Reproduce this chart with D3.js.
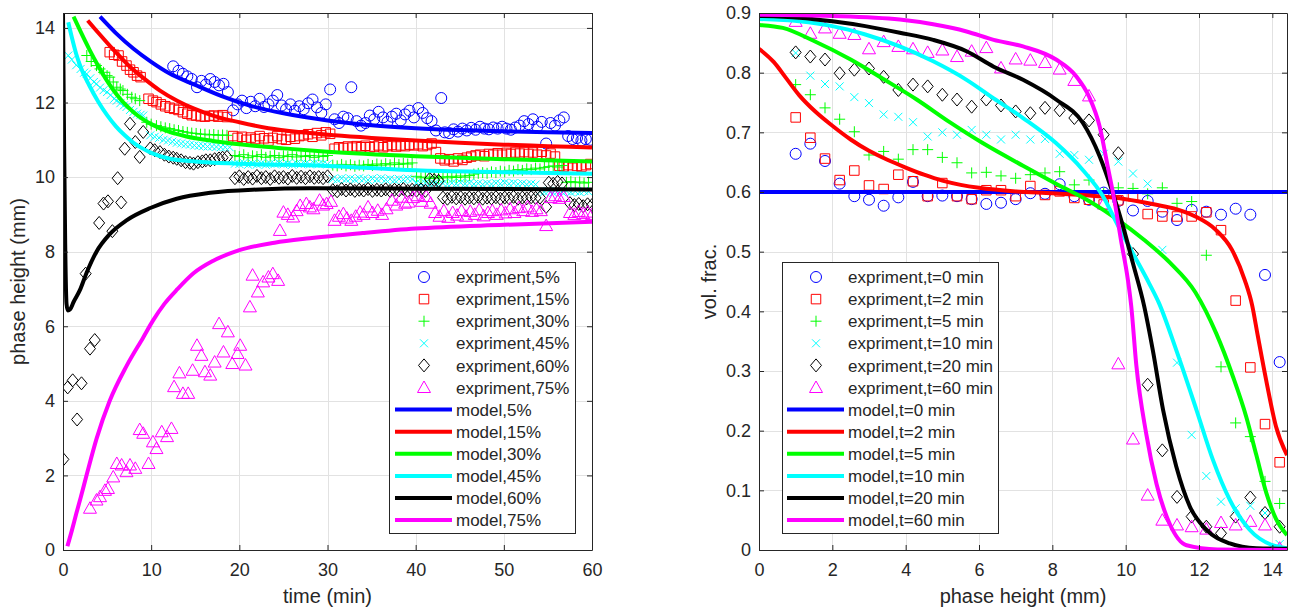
<!DOCTYPE html>
<html><head><meta charset="utf-8">
<script src="https://cdn.jsdelivr.net/npm/d3@7"></script>
<style>
body{margin:0;background:#fff}
svg text{font-family:"Liberation Sans",Arial,Helvetica,sans-serif;fill:#262626}
</style></head>
<body><svg id="c" width="1299" height="607"></svg>
<script>
// ---------------- DATA ----------------
const seriesColors = ["#0000ff","#ff0000","#00ff00","#00ffff","#000000","#ff00ff"];

// Left chart: phase height (mm) vs time (min)
const leftXTicks = [0,10,20,30,40,50,60];
const leftYTicks = [0,2,4,6,8,10,12,14];
const leftLegendExp = ["expriment,5%","expriment,15%","expriment,30%","expriment,45%","expriment,60%","expriment,75%"];
const leftLegendModel = ["model,5%","model,15%","model,30%","model,45%","model,60%","model,75%"];

const exp5 = [[12.5,12.97],[13.1,12.85],[13.6,12.77],[14.1,12.7],[14.6,12.63],[15.2,12.41],[15.7,12.58],[16.2,12.48],[16.7,12.63],[17.2,12.55],[17.7,12.46],[18.2,12.5],[18.7,12.28],[19.3,11.79],[19.8,11.95],[20.3,12.05],[20.8,11.85],[21.3,12.02],[21.8,11.9],[22.3,12.1],[22.8,11.88],[23.3,11.95],[23.8,12.05],[24.3,12.2],[24.8,11.92],[25.3,11.82],[25.8,11.95],[26.3,11.78],[26.8,11.9],[27.3,11.82],[27.8,11.98],[28.3,12.08],[28.8,11.87],[29.3,11.72],[29.8,11.95],[30.3,12.35],[30.8,11.55],[31.3,11.45],[31.8,11.62],[32.3,11.58],[32.7,12.41],[33.3,11.5],[33.8,11.38],[34.3,11.45],[34.8,11.65],[35.3,11.55],[35.8,11.75],[36.3,11.6],[36.8,11.48],[37.3,11.62],[37.8,11.7],[38.3,11.52],[38.8,11.68],[39.3,11.78],[39.8,11.6],[40.3,11.85],[40.8,11.72],[41.3,11.58],[41.8,11.5],[42.3,11.25],[42.9,12.12],[43.3,11.2],[43.8,11.18],[44.3,11.28],[44.8,11.22],[45.3,11.3],[45.8,11.25],[46.3,11.32],[46.8,11.27],[47.3,11.35],[47.8,11.3],[48.3,11.28],[48.8,11.33],[49.3,11.3],[49.8,11.35],[50.3,11.3],[50.8,11.27],[51.3,11.33],[51.8,11.38],[52.3,11.5],[52.8,11.42],[53.3,11.55],[53.8,11.35],[54.3,11.48],[54.8,10.9],[55.3,11.45],[55.8,11.38],[56.3,11.52],[56.8,11.6],[57.3,11.1],[57.8,11.02],[58.3,11.05],[58.8,10.98],[59.3,11.02],[59.8,11.0]];
const exp15 = [[5.3,13.35],[5.8,13.28],[6.3,13.26],[6.7,13.1],[7.2,12.99],[7.6,12.88],[8.0,12.81],[8.4,12.72],[8.8,12.68],[9.7,12.1],[10.2,12.05],[10.6,12.01],[11.1,11.95],[11.6,11.9],[12.1,11.86],[12.6,11.83],[13.1,11.8],[13.6,11.74],[14.1,11.7],[14.6,11.66],[15.1,11.65],[15.6,11.63],[16.1,11.62],[16.6,11.64],[17.1,11.65],[17.6,11.62],[18.1,11.66],[18.6,11.61],[19.3,11.1],[19.8,11.05],[20.3,11.08],[20.8,11.0],[21.3,11.06],[21.8,11.02],[22.3,11.1],[22.8,11.04],[23.3,10.98],[23.8,11.05],[24.3,11.1],[24.8,11.02],[25.3,11.0],[25.8,11.08],[26.3,11.03],[26.8,11.1],[27.3,11.12],[27.8,11.15],[28.3,11.08],[28.8,11.18],[29.3,11.12],[29.8,11.2],[30.3,11.16],[30.8,10.76],[31.3,10.8],[31.8,10.78],[32.3,10.82],[32.8,10.79],[33.3,10.83],[33.8,10.8],[34.3,10.84],[34.8,10.8],[35.3,10.82],[35.8,10.85],[36.3,10.8],[36.8,10.83],[37.3,10.86],[37.8,10.82],[38.3,10.85],[38.8,10.83],[39.3,10.87],[39.8,10.85],[40.3,10.88],[40.8,10.83],[41.3,10.86],[41.8,10.9],[42.3,10.67],[42.8,10.5],[43.3,10.45],[43.8,10.48],[44.3,10.42],[44.8,10.5],[45.3,10.46],[45.8,10.52],[46.3,10.55],[46.8,10.58],[47.3,10.6],[47.8,10.56],[48.3,10.62],[48.8,10.6],[49.3,10.64],[49.8,10.6],[50.3,10.65],[50.8,10.62],[51.3,10.66],[51.8,10.63],[52.3,10.67],[52.8,10.62],[53.3,10.66],[53.8,10.6],[54.3,10.68],[54.8,10.58],[55.3,10.63],[55.8,10.55],[56.3,10.3],[56.8,10.28],[57.3,10.32],[57.8,10.25],[58.3,10.3],[58.8,10.28],[59.3,10.32],[59.8,10.35]];
const exp30 = [[2.7,13.26],[3.2,13.1],[3.8,12.99],[4.2,12.9],[4.6,12.81],[5.0,12.72],[5.3,12.68],[5.7,12.55],[6.1,12.41],[6.5,12.36],[6.8,12.32],[7.3,12.22],[7.8,12.14],[8.2,12.1],[8.7,12.05],[9.5,11.47],[10.0,11.42],[10.6,11.38],[11.1,11.35],[11.6,11.32],[12.1,11.3],[12.6,11.27],[13.1,11.25],[13.6,11.22],[14.1,11.2],[14.6,11.18],[15.1,11.17],[15.6,11.15],[16.1,11.15],[16.6,11.13],[17.1,11.14],[17.6,11.12],[18.1,11.13],[18.6,11.12],[19.5,10.58],[20.0,10.55],[20.5,10.6],[21.0,10.52],[21.5,10.57],[22.0,10.55],[22.5,10.6],[23.0,10.53],[23.5,10.56],[24.0,10.58],[24.5,10.52],[25.0,10.57],[25.5,10.55],[26.0,10.6],[26.5,10.54],[27.0,10.57],[27.5,10.55],[28.0,10.58],[28.5,10.53],[29.0,10.57],[29.5,10.55],[30.0,10.58],[30.6,10.32],[31.1,10.3],[31.6,10.34],[32.1,10.3],[32.6,10.33],[33.1,10.29],[33.6,10.32],[34.1,10.3],[34.6,10.34],[35.1,10.31],[35.6,10.35],[36.1,10.32],[36.6,10.36],[37.1,10.33],[37.6,10.38],[38.1,10.34],[38.6,10.37],[39.1,10.35],[39.6,10.38],[40.1,10.02],[40.6,9.98],[41.1,10.0],[41.6,9.96],[42.1,10.0],[42.6,9.97],[43.1,10.01],[43.6,9.98],[44.1,10.02],[44.6,9.99],[45.1,10.03],[45.6,10.0],[46.1,10.04],[46.6,10.08],[47.1,10.1],[47.6,10.12],[48.1,10.1],[48.6,10.14],[49.1,10.12],[49.6,10.16],[50.1,10.14],[50.6,10.18],[51.1,10.16],[51.6,10.2],[52.1,10.18],[52.6,10.22],[53.1,10.2],[53.6,10.24],[54.1,10.22],[54.6,10.26],[55.1,10.28],[55.6,10.3],[56.1,10.27],[56.6,10.31],[57.1,9.86],[57.6,9.88],[58.1,9.85],[58.6,9.87],[59.1,9.84],[59.6,9.86]];
const exp45 = [[0.6,13.26],[1.0,13.15],[1.5,13.0],[2.0,12.9],[2.4,12.8],[2.7,12.77],[3.1,12.65],[3.5,12.55],[3.8,12.5],[4.2,12.4],[4.6,12.33],[5.0,12.28],[5.4,12.2],[5.8,12.1],[6.1,12.05],[6.5,11.98],[6.9,11.92],[7.2,11.88],[7.6,11.8],[8.0,11.75],[8.4,11.7],[8.8,11.67],[9.1,11.65],[9.9,11.12],[10.4,11.08],[10.9,11.05],[11.4,11.0],[11.9,10.98],[12.4,10.95],[12.9,10.92],[13.4,10.9],[13.9,10.88],[14.4,10.87],[14.9,10.85],[15.4,10.84],[15.9,10.83],[16.4,10.82],[16.9,10.82],[17.4,10.81],[17.9,10.8],[18.4,10.8],[18.9,10.8],[19.5,10.36],[20.0,10.35],[20.5,10.38],[21.0,10.33],[21.5,10.36],[22.0,10.34],[22.5,10.37],[23.0,10.33],[23.5,10.36],[24.0,10.35],[24.5,10.38],[25.0,10.34],[25.5,10.36],[26.0,10.33],[26.5,10.37],[27.0,10.35],[27.5,10.36],[28.0,10.34],[28.5,10.37],[29.0,10.35],[29.5,10.36],[30.0,10.34],[30.6,9.95],[31.1,9.93],[31.6,9.97],[32.1,9.94],[32.6,9.96],[33.1,9.93],[33.6,9.97],[34.1,9.95],[34.6,9.92],[35.1,9.96],[35.6,9.94],[36.1,9.97],[36.6,9.93],[37.1,9.95],[37.6,9.92],[38.1,9.95],[38.6,9.93],[39.1,9.96],[39.6,9.94],[40.1,9.85],[40.6,9.82],[41.1,9.84],[41.6,9.81],[42.1,9.83],[42.6,9.8],[43.1,9.83],[43.6,9.81],[44.1,9.84],[44.6,9.82],[45.1,9.85],[45.6,9.82],[46.1,9.84],[46.6,9.81],[47.1,9.83],[47.6,9.8],[48.1,9.83],[48.6,9.81],[49.1,9.84],[49.6,9.82],[50.1,9.85],[50.6,9.82],[51.1,9.84],[51.6,9.81],[52.1,9.83],[52.6,9.8],[53.1,9.82],[53.6,9.8],[54.1,9.62],[54.6,9.6],[55.1,9.63],[55.6,9.58],[56.1,9.62],[56.6,9.6],[57.1,9.63],[57.6,9.59],[58.1,9.62],[58.6,9.6],[59.1,9.63],[59.6,9.61]];
const exp60 = [[0.04,2.43],[0.53,4.36],[1.1,4.55],[1.6,3.5],[2.1,4.47],[2.57,7.41],[3.06,5.4],[3.6,5.63],[4.1,8.77],[4.6,9.29],[5.1,9.35],[5.6,8.55],[6.2,9.97],[6.6,9.32],[7.0,10.76],[7.6,11.43],[8.2,10.94],[8.7,10.54],[9.1,11.21],[9.9,10.77],[10.4,10.72],[11.0,10.67],[11.5,10.6],[12.0,10.55],[12.5,10.52],[12.9,10.49],[13.4,10.45],[13.9,10.4],[14.4,10.38],[14.8,10.36],[15.3,10.4],[15.8,10.42],[16.2,10.45],[16.7,10.45],[17.2,10.48],[17.7,10.5],[18.1,10.52],[18.6,10.54],[19.5,9.97],[20.0,10.02],[20.5,9.95],[21.0,10.0],[21.5,9.96],[22.0,10.03],[22.5,9.97],[23.0,10.0],[23.5,9.95],[24.0,10.02],[24.5,9.98],[25.0,10.0],[25.5,9.96],[26.0,10.03],[26.5,9.98],[27.0,10.01],[27.5,9.97],[28.0,10.02],[28.5,9.98],[29.0,10.0],[29.5,9.97],[30.0,10.02],[30.6,9.65],[31.1,9.62],[31.6,9.68],[32.1,9.64],[32.6,9.67],[33.1,9.63],[33.6,9.66],[34.1,9.64],[34.6,9.68],[35.1,9.63],[35.6,9.66],[36.1,9.64],[36.6,9.67],[37.1,9.63],[37.6,9.66],[38.1,9.64],[38.6,9.68],[39.1,9.63],[39.6,9.66],[40.1,9.64],[40.6,9.67],[41.1,9.63],[41.6,9.95],[42.1,9.92],[42.6,9.9],[43.1,9.45],[43.6,9.42],[44.1,9.47],[44.6,9.43],[45.1,9.46],[45.6,9.42],[46.1,9.45],[46.6,9.43],[47.1,9.47],[47.6,9.42],[48.1,9.45],[48.6,9.43],[49.1,9.46],[49.6,9.42],[50.1,9.45],[50.6,9.43],[51.1,9.47],[51.6,9.42],[52.1,9.45],[52.6,9.43],[53.1,9.46],[53.6,9.44],[54.1,9.45],[54.8,9.2],[55.1,9.85],[55.6,9.82],[56.1,9.87],[56.6,9.83],[57.5,9.3],[58.0,9.25],[58.5,9.28],[59.0,9.22],[59.5,9.27],[60.0,9.25]];
const exp75 = [[3.06,1.12],[3.8,1.34],[4.2,1.43],[4.76,1.6],[5.1,1.65],[5.7,1.96],[6.1,2.32],[6.65,2.28],[7.2,2.1],[7.6,2.28],[8.2,2.19],[8.7,3.23],[9.1,3.13],[9.7,2.32],[10.2,2.9],[10.6,2.72],[11.2,3.17],[11.8,3.04],[12.3,3.26],[12.6,4.38],[13.2,4.75],[13.6,4.2],[14.2,4.2],[14.7,4.82],[15.2,5.49],[15.7,5.22],[16.1,4.78],[16.7,4.69],[17.2,5.04],[17.7,6.07],[18.2,5.31],[18.7,5.85],[19.2,5.0],[19.8,5.27],[20.1,5.49],[20.7,4.96],[21.2,6.52],[21.5,7.37],[22.1,6.92],[22.7,7.19],[23.3,7.32],[23.8,7.41],[24.4,7.23],[24.6,8.57],[25.0,9.06],[25.5,9.0],[26.1,8.93],[26.5,9.1],[26.9,9.24],[27.6,9.29],[28.0,9.2],[28.4,9.15],[29.1,9.38],[29.5,9.25],[29.9,9.29],[30.4,9.35],[30.8,8.84],[31.3,8.95],[31.8,9.02],[32.2,8.9],[32.7,8.84],[33.2,8.95],[33.7,9.06],[34.1,9.0],[34.6,9.2],[35.1,9.05],[35.7,9.11],[36.2,9.0],[36.7,9.15],[37.3,9.38],[37.8,9.25],[38.4,9.46],[38.8,9.3],[39.2,9.33],[39.7,9.45],[40.2,9.5],[40.7,9.35],[41.2,9.48],[41.7,9.3],[42.2,9.05],[42.7,8.95],[43.2,9.1],[43.7,8.92],[44.2,9.05],[44.7,8.98],[45.2,9.1],[45.7,8.95],[46.2,9.08],[46.7,9.0],[47.2,9.12],[47.7,8.96],[48.2,9.05],[48.7,9.1],[49.2,9.0],[49.7,9.12],[50.2,9.04],[50.7,9.15],[51.2,9.05],[51.7,9.18],[52.2,9.1],[52.7,9.2],[53.2,9.08],[53.7,9.15],[54.2,9.1],[54.8,8.7],[55.3,9.45],[55.8,9.5],[56.3,9.43],[56.8,9.48],[57.5,9.05],[58.0,9.0],[58.5,9.08],[59.0,9.02],[59.5,9.06],[60.0,9.0]];

const model5 = [[4.2,14.3],[6,13.86],[8,13.44],[10,13.09],[12,12.79],[15,12.47],[18,12.17],[21,11.93],[25,11.71],[30,11.52],[35,11.39],[40,11.31],[45,11.26],[50,11.23],[55,11.2],[60,11.18]];
const model15 = [[2.8,14.2],[4,13.87],[5.7,13.42],[7.5,12.98],[9.1,12.66],[11,12.32],[13,12.04],[14.8,11.84],[17,11.65],[20,11.47],[23.3,11.31],[27,11.2],[30.8,11.12],[35,11.05],[40,10.98],[45,10.92],[50,10.87],[55,10.83],[60,10.79]];
const model30 = [[1.2,14.3],[2,13.9],[3,13.42],[4,12.98],[5,12.58],[6,12.24],[7,11.96],[8,11.74],[9,11.56],[10,11.42],[12,11.22],[14,11.09],[17,10.97],[20,10.88],[25,10.77],[30,10.68],[40,10.56],[50,10.48],[60,10.42]];
const model45 = [[0.6,14.15],[1,13.75],[1.5,13.3],[2,12.95],[3,12.45],[4,12.02],[5,11.66],[6,11.36],[7,11.12],[8,10.92],[9,10.77],[10,10.65],[12,10.5],[15,10.42],[20,10.36],[30,10.3],[40,10.18],[50,10.13],[60,10.09]];
const model60 = [[0,14.4],[0.12,11],[0.25,8.2],[0.4,6.6],[0.55,6.42],[0.8,6.45],[1.2,6.65],[1.9,6.96],[2.7,7.45],[3.8,8.0],[5.3,8.47],[7.2,8.84],[9.9,9.17],[12.9,9.42],[16.7,9.58],[22.3,9.67],[28,9.7],[40,9.69],[60,9.67]];
const model75 = [[0.5,0.1],[1,0.52],[1.5,0.97],[2,1.4],[2.7,2.03],[3.8,2.98],[5.3,4.0],[7.2,4.93],[9.1,5.7],[10.2,6.15],[11.5,6.6],[13,7.0],[14.8,7.42],[17,7.75],[20,8.04],[24,8.24],[28,8.36],[34,8.5],[40,8.62],[50,8.72],[60,8.8]];

// Right chart: vol. frac. vs phase height (mm)
const rightXTicks = [0,2,4,6,8,10,12,14];
const rightYTicks = [0,0.1,0.2,0.3,0.4,0.5,0.6,0.7,0.8,0.9];
const rightLegendExp = ["expriment,t=0 min","expriment,t=2 min","expriment,t=5 min","expriment,t=10 min","expriment,t=20 min","expriment,t=60 min"];
const rightLegendModel = ["model,t=0 min","model,t=2 min","model,t=5 min","model,t=10 min","model,t=20 min","model,t=60 min"];
const heights = [1.0,1.4,1.8,2.2,2.6,3.0,3.4,3.8,4.2,4.6,5.0,5.4,5.8,6.2,6.6,7.0,7.4,7.8,8.2,8.6,9.0,9.4,9.8,10.2,10.6,11.0,11.4,11.8,12.2,12.6,13.0,13.4,13.8,14.2];
const fracT0  = [0.664,0.681,0.652,0.614,0.593,0.587,0.577,0.591,0.617,0.593,0.594,0.593,0.588,0.580,0.582,0.588,0.598,0.597,0.613,0.593,0.587,0.599,0.585,0.569,0.585,0.567,0.553,0.570,0.567,0.562,0.572,0.562,0.461,0.315];
const fracT2  = [0.725,0.691,0.656,0.620,0.636,0.611,0.605,0.629,0.618,0.593,0.615,0.593,0.588,0.603,0.603,0.593,0.610,0.595,0.601,0.590,0.587,0.579,0.586,0.593,0.563,0.559,0.559,0.559,0.566,0.536,0.418,0.306,0.211,0.147];
const fracT5  = [0.780,0.763,0.741,0.722,0.701,0.662,0.668,0.655,0.671,0.671,0.658,0.649,0.632,0.633,0.627,0.623,0.629,0.632,0.634,0.612,0.620,0.598,0.607,0.606,0.597,0.607,0.581,0.584,0.494,0.307,0.213,0.190,0.115,0.078];
const fracT10 = [0.833,0.795,0.781,0.777,0.759,0.749,0.730,0.726,0.717,0.693,0.700,0.696,0.704,0.696,0.688,0.696,0.688,0.689,0.664,0.662,0.654,0.664,0.651,0.631,0.614,0.503,0.314,0.193,0.124,0.081,0.070,0.074,0.062,0.010];
const fracT20 = [0.834,0.827,0.822,0.799,0.805,0.807,0.793,0.771,0.780,0.777,0.763,0.755,0.743,0.755,0.745,0.735,0.732,0.741,0.737,0.724,0.720,0.696,0.665,0.496,0.277,0.167,0.089,0.056,0.039,0.028,0.056,0.088,0.062,0.039];
const fracT60 = [0.886,0.866,0.875,0.866,0.864,0.840,0.852,0.844,0.840,0.834,0.838,0.827,0.836,0.842,0.808,0.823,0.821,0.817,0.806,0.787,0.761,0.580,0.312,0.186,0.092,0.050,0.042,0.039,0.035,0.046,0.042,0.048,0.042,0.003];

const modelT0  = [[0,0.6],[14.4,0.6]];
const modelT2  = [[0,0.84],[0.4,0.818],[0.75,0.79],[1.1,0.762],[1.55,0.734],[2,0.711],[2.5,0.688],[3,0.669],[3.5,0.654],[4,0.641],[4.5,0.629],[5,0.619],[5.5,0.612],[6,0.607],[7,0.601],[8,0.598],[9,0.594],[10,0.588],[10.8,0.579],[11.4,0.571],[11.9,0.559],[12.45,0.537],[12.9,0.503],[13.25,0.452],[13.45,0.41],[13.6,0.36],[13.85,0.279],[14.1,0.207],[14.4,0.159]];
const modelT5  = [[0,0.88],[0.65,0.875],[1.5,0.853],[2.5,0.822],[3.4,0.789],[4.3,0.755],[5.2,0.717],[6.1,0.682],[7.2,0.644],[8.1,0.614],[9,0.585],[9.8,0.553],[10.5,0.52],[11.2,0.482],[11.9,0.432],[12.47,0.363],[12.93,0.29],[13.29,0.223],[13.56,0.16],[13.84,0.095],[14.1,0.052],[14.4,0.025]];
const modelT10 = [[0,0.89],[1.1,0.886],[2,0.878],[2.9,0.864],[3.84,0.844],[4.75,0.819],[5.66,0.788],[6.4,0.757],[7.2,0.724],[8.1,0.682],[8.83,0.637],[9.38,0.593],[9.78,0.545],[10.2,0.497],[10.64,0.447],[10.9,0.415],[11.38,0.335],[11.93,0.235],[12.38,0.151],[12.84,0.084],[13.38,0.034],[14,0.008],[14.4,0.003]];
const modelT20 = [[0,0.895],[1.1,0.892],[2,0.886],[2.9,0.878],[3.84,0.867],[4.75,0.855],[5.66,0.836],[6.4,0.81],[7.2,0.788],[8.1,0.755],[8.83,0.716],[9.29,0.66],[9.65,0.598],[9.93,0.542],[10.2,0.48],[10.5,0.41],[10.74,0.335],[11.02,0.235],[11.38,0.14],[11.75,0.073],[12.2,0.034],[12.84,0.011],[13.56,0.003],[14.4,0.002]];
const modelT60 = [[0,0.897],[2,0.895],[3.84,0.889],[4.75,0.881],[5.66,0.869],[6.4,0.855],[7.2,0.844],[8.1,0.822],[8.65,0.794],[9,0.76],[9.29,0.71],[9.51,0.643],[9.69,0.587],[9.87,0.52],[10.06,0.453],[10.15,0.41],[10.29,0.31],[10.56,0.195],[10.84,0.111],[11.2,0.044],[11.66,0.008],[12.5,0.001],[14.4,0.0]];

// ---------------- DRAWING ----------------
const svg = d3.select("#c");
const markerPaths = [
  d3.symbol(d3.symbolCircle, 95)(),
  "M-4.75,-4.75H4.75V4.75H-4.75Z",
  "M-5.5,0H5.5M0,-5.5V5.5",
  "M-4,-4L4,4M-4,4L4,-4",
  "M0,-6.5L5.5,0L0,6.5L-5.5,0Z",
  "M0,-6.5L6.5,5L-6.5,5Z"
];

function panel(opt) {
  const {id, xs, ys, xTicks, yTicks, exps, models, legExp, legModel, legBox, legMarkerX, legLineX, legTextX, xLabel, yLabel, yLabelX} = opt;
  const [x0, x1] = xs.range(), [y0, y1] = ys.range();
  const g = svg.append("g");
  g.append("clipPath").attr("id", "clip" + id).append("rect")
    .attr("x", x0).attr("y", y1).attr("width", x1 - x0).attr("height", y0 - y1);
  // grid
  g.append("g").selectAll("line").data(xTicks).join("line")
    .attr("x1", d => Math.round(xs(d)) + 0.5).attr("x2", d => Math.round(xs(d)) + 0.5)
    .attr("y1", y1).attr("y2", y0).attr("stroke", "#e2e2e2");
  g.append("g").selectAll("line").data(yTicks).join("line")
    .attr("y1", d => Math.round(ys(d)) + 0.5).attr("y2", d => Math.round(ys(d)) + 0.5)
    .attr("x1", x0).attr("x2", x1).attr("stroke", "#e2e2e2");
  const dg = g.append("g").attr("clip-path", `url(#clip${id})`);
  // experiments
  exps.forEach((s, i) => {
    dg.append("g").selectAll("path").data(s).join("path")
      .attr("transform", d => `translate(${xs(d[0])},${ys(d[1])})`)
      .attr("d", markerPaths[i]).attr("fill", "none")
      .attr("stroke", seriesColors[i]).attr("stroke-width", 1);
  });
  // models
  const line = d3.line().x(d => xs(d[0])).y(d => ys(d[1])).curve(d3.curveMonotoneX);
  models.forEach((s, i) => {
    dg.append("path").datum(s).attr("d", line).attr("fill", "none")
      .attr("stroke", seriesColors[i]).attr("stroke-width", 4).attr("stroke-linejoin", "round");
  });
  // axes
  const fmt = d3.format("~g");
  const styleAxis = a => {
    a.attr("font-family", null).attr("font-size", null);
    a.selectAll(".domain").attr("stroke", "#262626");
    a.selectAll(".tick line").attr("stroke", "#262626");
    a.selectAll("text").style("font-size", "18px").attr("fill", "#262626");
  };
  g.append("g").attr("transform", `translate(0,${y0})`)
    .call(d3.axisBottom(xs).tickValues(xTicks).tickFormat(fmt).tickSize(-5).tickSizeOuter(0).tickPadding(13)).call(styleAxis);
  g.append("g").attr("transform", `translate(0,${y1})`)
    .call(d3.axisTop(xs).tickValues(xTicks).tickFormat("").tickSize(-5).tickSizeOuter(0)).call(styleAxis);
  g.append("g").attr("transform", `translate(${x0},0)`)
    .call(d3.axisLeft(ys).tickValues(yTicks).tickFormat(fmt).tickSize(-5).tickSizeOuter(0).tickPadding(8)).call(styleAxis);
  g.append("g").attr("transform", `translate(${x1},0)`)
    .call(d3.axisRight(ys).tickValues(yTicks).tickFormat("").tickSize(-5).tickSizeOuter(0)).call(styleAxis);
  // labels
  g.append("text").attr("x", (x0 + x1) / 2).attr("y", 603).attr("text-anchor", "middle")
    .style("font-size", "20px").text(xLabel);
  g.append("text").attr("transform", `translate(${yLabelX},${(y0 + y1) / 2}) rotate(-90)`)
    .attr("text-anchor", "middle").style("font-size", "20px").text(yLabel);
  // legend
  const lg = g.append("g");
  lg.append("rect").attr("x", legBox[0] + 0.5).attr("y", legBox[1] + 0.5)
    .attr("width", legBox[2] - legBox[0]).attr("height", legBox[3] - legBox[1])
    .attr("fill", "#fff").attr("stroke", "#262626").attr("stroke-width", 1);
  const rowY = i => 277 + i * 22.1;
  legExp.forEach((t, i) => {
    lg.append("path").attr("transform", `translate(${legMarkerX},${rowY(i)})`)
      .attr("d", markerPaths[i]).attr("fill", "none").attr("stroke", seriesColors[i]);
    lg.append("text").attr("x", legTextX).attr("y", rowY(i)).attr("dy", "0.36em").style("font-size", "17px").text(t);
  });
  legModel.forEach((t, i) => {
    const yy = rowY(i + 6);
    lg.append("line").attr("x1", legLineX[0]).attr("x2", legLineX[1]).attr("y1", yy).attr("y2", yy)
      .attr("stroke", seriesColors[i]).attr("stroke-width", 4);
    lg.append("text").attr("x", legTextX).attr("y", yy).attr("dy", "0.36em").style("font-size", "17px").text(t);
  });
}

panel({
  id: "L",
  xs: d3.scaleLinear().domain([0, 60]).range([63, 592]),
  ys: d3.scaleLinear().domain([0, 14.4]).range([550, 13]),
  xTicks: leftXTicks, yTicks: leftYTicks,
  exps: [exp5, exp15, exp30, exp45, exp60, exp75],
  models: [model5, model15, model30, model45, model60, model75],
  legExp: leftLegendExp, legModel: leftLegendModel,
  legBox: [389, 262, 575, 533], legMarkerX: 424, legLineX: [395, 452], legTextX: 456,
  xLabel: "time (min)", yLabel: "phase height (mm)", yLabelX: 25
});

const fracs = [fracT0, fracT2, fracT5, fracT10, fracT20, fracT60];
panel({
  id: "R",
  xs: d3.scaleLinear().domain([0, 14.4]).range([759, 1287]),
  ys: d3.scaleLinear().domain([0, 0.9]).range([550, 13]),
  xTicks: rightXTicks, yTicks: rightYTicks,
  exps: fracs.map(f => heights.map((h, j) => [h, f[j]])),
  models: [modelT0, modelT2, modelT5, modelT10, modelT20, modelT60],
  legExp: rightLegendExp, legModel: rightLegendModel,
  legBox: [782, 262, 998, 533], legMarkerX: 816, legLineX: [787, 844], legTextX: 848,
  xLabel: "phase height (mm)", yLabel: "vol. frac.", yLabelX: 716
});
</script></body></html>
